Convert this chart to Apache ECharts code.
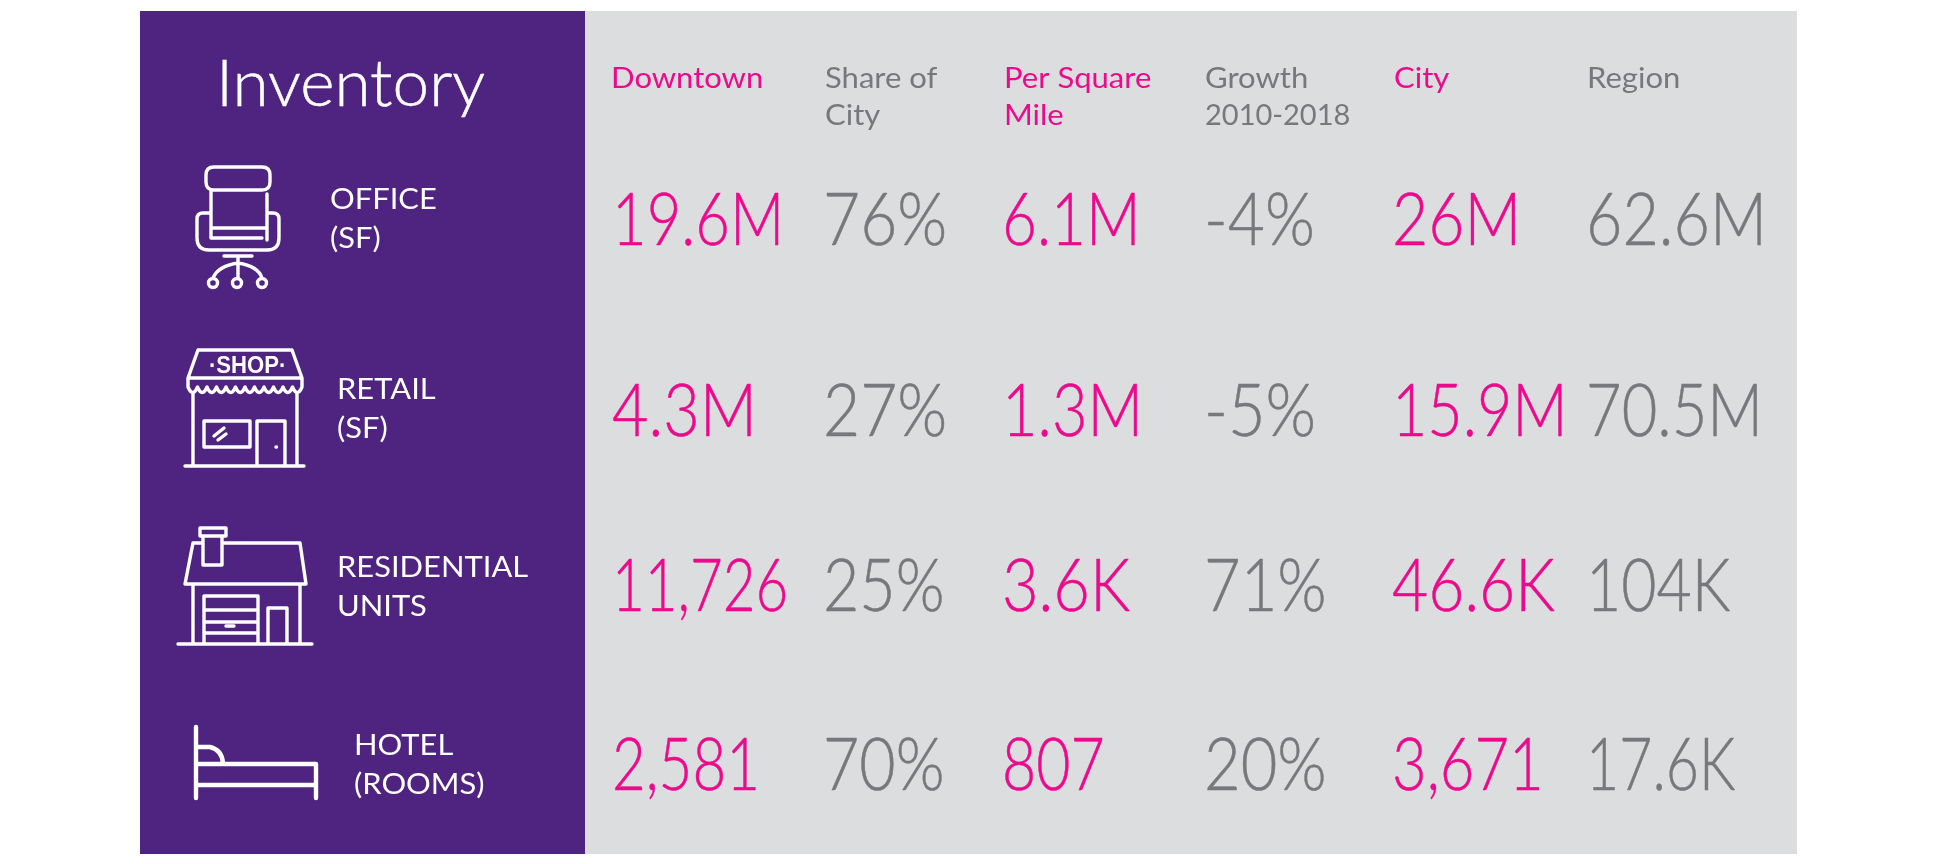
<!DOCTYPE html>
<html>
<head>
<meta charset="utf-8">
<style>
  html, body { margin: 0; padding: 0; background: #fff; }
  #main { width: 1960px; height: 864px; }
</style>
<script src="https://cdn.jsdelivr.net/npm/echarts@6/dist/echarts.min.js"></script>
</head>
<body>
<div id="main"></div>
<script>
  // table content
  const title = 'Inventory'
  const columns = ['Downtown', 'Share of\nCity', 'Per Square\nMile', 'Growth\n2010-2018', 'City', 'Region']
  const rowNames = ['OFFICE\n(SF)', 'RETAIL\n(SF)', 'RESIDENTIAL\nUNITS', 'HOTEL\n(ROOMS)']
  const downtown = ['19.6M', '4.3M', '11,726', '2,581']
  const shareOfCity = ['76%', '27%', '25%', '70%']
  const perSquareMile = ['6.1M', '1.3M', '3.6K', '807']
  const growth = ['-4%', '-5%', '71%', '20%']
  const city = ['26M', '15.9M', '46.6K', '3,671']
  const region = ['62.6M', '70.5M', '104K', '17.6K']

  const PINK = '#ec0a8c'
  const GREY = '#77787b'
  const PURPLE = '#4f2480'
  const FONT = 'Lato, "Noto Sans", sans-serif'

  // layout
  const columnX = [612, 823, 1002, 1204, 1392, 1586]
  const headerX = [611, 825, 1004, 1205, 1394, 1587]
  const rowBase = [244, 435, 610, 789]
  const rowNameX = [330, 337, 337, 354]
  const rowNameBase = [209, 399, 577, 755]
  const valueSize = 72
  // horizontal squeeze per cell, same order as the value lists (Lato is wider than the original face)
  const valueScales = [
    [0.83, 0.875, 0.785, 0.81],
    [0.89, 0.89, 0.87, 0.87],
    [0.836, 0.852, 0.877, 0.82],
    [0.89, 0.9, 0.878, 0.878],
    [0.869, 0.847, 0.867, 0.83],
    [0.872, 0.854, 0.845, 0.795]
  ]
  const ASCENT = 0.81 // text is placed by its top, this brings it down to the baseline

  const valueColumns = [downtown, shareOfCity, perSquareMile, growth, city, region]
  const valueCells = []
  valueColumns.forEach((col, c) => col.forEach((text, r) => valueCells.push({ c, r, text })))

  const textEl = (text, x, base, size, weight, fill, scaleX, bold) => ({
    type: 'text',
    x,
    y: base - size * ASCENT,
    scaleX: scaleX || 1,
    style: {
      text,
      font: `${weight} ${size}px ${FONT}`,
      fill,
      stroke: bold ? fill : null,
      lineWidth: bold || 0,
      textBaseline: 'top'
    }
  })

  /*大数字*/
  const renderValue = (params) => {
    const cell = valueCells[params.dataIndex]
    return textEl(cell.text, columnX[cell.c], rowBase[cell.r], valueSize, 300,
      cell.c % 2 === 0 ? PINK : GREY, valueScales[cell.c][cell.r], 0.5)
  }

  /*表头*/
  const renderHeader = (params) => {
    const i = params.dataIndex
    return {
      type: 'group',
      children: columns[i].split('\n').map((line, k) =>
        textEl(line, headerX[i], 88 + k * 37, 29, 400, i % 2 === 0 ? PINK : GREY, /\d/.test(line) ? 1 : 1.07))
    }
  }

  /*左侧行名*/
  const renderRowName = (params) => {
    const i = params.dataIndex
    return {
      type: 'group',
      children: rowNames[i].split('\n').map((line, k) =>
        textEl(line, rowNameX[i], rowNameBase[i] + k * 39, 29, 400, '#fff', 1.065))
    }
  }

  const chairPath = 'M214 167H262Q270 167 270 175V182Q270 190 262 190H214Q206 190 206 182V175Q206 167 214 167Z' +
    'M211 190V238M267 194V240M211 228H265M211 238H262' +
    'M211 213H203Q197 213 197 219V238Q197 250 209 250H267Q279 250 279 238V219Q279 213 273 213H267' +
    'M224 256H252M238 256V263M238 263Q218 266 213 278M238 263Q258 266 262 278M238 263V278' +
    'M217.5 283A4.5 4.5 0 1 1 208.5 283A4.5 4.5 0 1 1 217.5 283Z' +
    'M241.5 283A4.5 4.5 0 1 1 232.5 283A4.5 4.5 0 1 1 241.5 283Z' +
    'M266.5 283A4.5 4.5 0 1 1 257.5 283A4.5 4.5 0 1 1 266.5 283Z'

  // awning scallops
  let scallops = 'M302 378V387'
  for (let x = 302; x > 188.5; x -= 9.5) {
    scallops += `Q${x - 4.75} 398 ${x - 9.5} 387`
  }
  const shopPath = 'M198 350H292L302 378H188ZM188 378V387' + scallops +
    'M193 393V465M297 393V465M185 466H304' +
    'M204 421H250V447H204ZM257 421H285V465M257 421V465' +
    'M214 436L224 428M218 440L226 434M276 447H276.5'

  const housePath = 'M203 543H193L185 584H306L300 543H222M200 528H226V536H200ZM203 536V565H222V536' +
    'M193 584V643M300 584V643M178 644H312' +
    'M204 643V596H258V643M204 610H258M204 622H258M204 633H258M226 626H234' +
    'M268 643V608H287V643'

  const bedPath = 'M196 727V798M196 747H210Q222 750 223 763M196 764H316V798M196 785H316'

  // pathData with the box it was drawn in
  const icons = [
    { pathData: chairPath, x: 197, y: 167, width: 82, height: 120.5, lineWidth: 3.4 },
    { pathData: shopPath, x: 185, y: 350, width: 119, height: 116, lineWidth: 3.4 },
    { pathData: housePath, x: 178, y: 528, width: 134, height: 116, lineWidth: 3.4 },
    { pathData: bedPath, x: 196, y: 727, width: 120, height: 71, lineWidth: 4.4 }
  ]

  /*图标*/
  const renderIcon = (params) => {
    const icon = icons[params.dataIndex]
    return {
      type: 'path',
      shape: { pathData: icon.pathData, x: icon.x, y: icon.y, width: icon.width, height: icon.height, layout: 'cover' },
      style: { fill: 'none', stroke: '#fff', lineWidth: icon.lineWidth, lineCap: 'round', lineJoin: 'round' }
    }
  }

  const option = {
    animation: false,
    backgroundColor: '#fff',
    graphic: [
      { type: 'rect', z: -2, shape: { x: 140, y: 11, width: 445, height: 843 }, style: { fill: PURPLE } },
      { type: 'rect', z: -2, shape: { x: 585, y: 11, width: 1212, height: 843 }, style: { fill: '#dcdddf' } },
      textEl(title, 216, 105, 65, 300, '#fff', 1.01, 0.5),
      { type: 'text', z: 5, x: 209, y: 354, scaleX: 0.92, style: { text: '·SHOP·', font: '700 24px "Liberation Sans", sans-serif', fill: '#fff', textBaseline: 'top' } }
    ],
    series: [
      { type: 'custom', coordinateSystem: 'none', silent: true, data: icons.map((c, i) => i), renderItem: renderIcon },
      { type: 'custom', coordinateSystem: 'none', silent: true, data: columns.map((c, i) => i), renderItem: renderHeader },
      { type: 'custom', coordinateSystem: 'none', silent: true, data: rowNames.map((c, i) => i), renderItem: renderRowName },
      { type: 'custom', coordinateSystem: 'none', silent: true, data: valueCells.map((c, i) => i), renderItem: renderValue }
    ]
  }

  const chart = echarts.init(document.getElementById('main'))
  chart.setOption(option)
</script>
</body>
</html>
